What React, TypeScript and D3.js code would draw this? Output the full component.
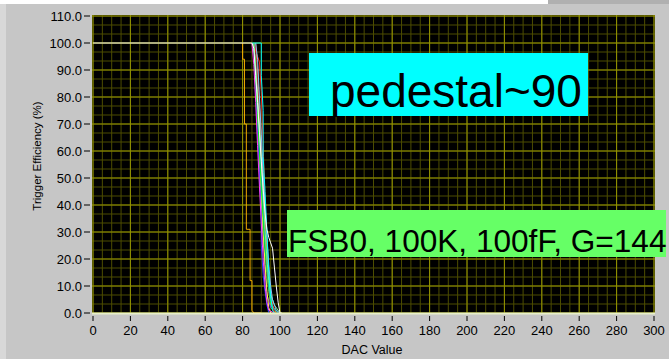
import React from "react";
import * as d3 from "d3";

const xTicks = [0, 20, 40, 60, 80, 100, 120, 140, 160, 180, 200, 220, 240, 260, 280, 300];
const yTicks = [0, 10, 20, 30, 40, 50, 60, 70, 80, 90, 100, 110];
const xTitle = "DAC Value";
const yTitle = "Trigger Efficiency (%)";
const note1 = "pedestal~90";
const note2 = "FSB0, 100K, 100fF, G=144";

// each series: [DAC, efficiency%]
const sWhite: [number, number][] = [[0, 100], [85, 100], [86, 98], [87, 88], [88, 78], [89, 67], [90, 56], [91, 46], [92, 37], [93, 31], [94, 28], [95, 26], [96, 24], [97, 17], [98, 10], [99, 4], [100, 0], [101, 0]];
const sOrange: [number, number][] = [[80, 100], [80, 94], [81, 94], [81, 70], [82, 70], [82, 31], [84, 31], [84, 12], [85, 12], [85, 1], [86, 0], [90, 0]];
const sCyan: [number, number][] = [[85, 100], [90, 100], [90, 88], [91, 75], [91, 58], [92, 45], [93, 30], [94, 15], [95, 6], [96, 1], [97, 0]];
const sRed: [number, number][] = [[86, 100], [87, 97], [88, 95], [89, 93], [90, 82], [91, 62], [92, 42], [93, 26], [94, 13], [95, 6], [97, 0]];
const sGreen: [number, number][] = [[86, 100], [87, 88], [88, 74], [89, 60], [90, 47], [91, 35], [92, 24], [93, 16], [94, 9], [95, 4], [96, 1], [98, 0]];
const sBlue: [number, number][] = [[86, 100], [87, 85], [88, 68], [89, 52], [90, 36], [90, 25], [91, 14], [92, 8], [93, 3], [94, 0]];
const sMagenta: [number, number][] = [[85, 100], [86, 92], [87, 78], [88, 62], [89, 47], [90, 33], [91, 20], [92, 10], [93, 4], [94, 1], [97, 0]];
const sYellow: [number, number][] = [[86, 100], [87, 90], [88, 76], [89, 61], [90, 45], [91, 30], [92, 18], [93, 8], [94, 2], [95, 0]];
const sPink: [number, number][] = [[86, 100], [87, 93], [88, 82], [89, 68], [90, 53], [91, 38], [92, 26], [93, 15], [94, 8], [95, 3], [99, 0]];
const sLightBlue: [number, number][] = [[87, 100], [88, 94], [89, 80], [90, 66], [91, 52], [92, 40], [93, 28], [94, 18], [95, 10], [96, 5], [98, 1], [100, 0]];
const sLime: [number, number][] = [[86, 100], [87, 89], [88, 80], [89, 70], [90, 58], [91, 44], [92, 31], [93, 20], [94, 12], [95, 7], [97, 3], [100, 0]];
const sPurple: [number, number][] = [[86, 100], [87, 86], [88, 71], [89, 56], [90, 41], [91, 27], [92, 16], [93, 7], [95, 2], [98, 0]];
const sDarkRed: [number, number][] = [[87, 100], [88, 90], [89, 77], [90, 63], [91, 49], [92, 36], [93, 24], [94, 15], [95, 8], [96, 3], [98, 0]];
const sTeal: [number, number][] = [[86, 100], [87, 91], [88, 79], [89, 65], [90, 51], [91, 39], [92, 27], [93, 17], [94, 9], [96, 2], [99, 0]];

const series: { data: [number, number][]; color: string }[] = [
  { data: sOrange, color: "#f0a800" },
  { data: sPurple, color: "#8040ff" },
  { data: sBlue, color: "#2040ff" },
  { data: sYellow, color: "#ffff40" },
  { data: sMagenta, color: "#ff40ff" },
  { data: sPink, color: "#ff8080" },
  { data: sGreen, color: "#00ff00" },
  { data: sRed, color: "#ff2020" },
  { data: sDarkRed, color: "#ff6040" },
  { data: sTeal, color: "#00c0a0" },
  { data: sLime, color: "#80ff80" },
  { data: sLightBlue, color: "#80c0ff" },
  { data: sCyan, color: "#00ffff" },
  { data: sWhite, color: "#ffffff" },
];

export default function App() {
  const W = 669, H = 359;
  const x = d3.scaleLinear().domain([0, 300]).range([93, 654]);
  const y = d3.scaleLinear().domain([0, 110]).range([313, 16]);
  const line = d3.line<[number, number]>().x(d => x(d[0])).y(d => y(d[1]));
  const xMinor = d3.range(0, 301, 5);
  const yMinor = d3.range(0, 111, 10 / 3);
  const font = "'Liberation Sans', Arial, sans-serif";
  return (
    <svg width={W} height={H} style={{ position: "absolute", left: 0, top: 0 }}>
      <rect x={0} y={0} width={W} height={H} fill="#c6c6c6" />
      <rect x={0} y={0} width={548} height={4} fill="#ffffff" />
      <rect x={548} y={0} width={121} height={4} fill="#b0b0b0" />
      <rect x={0} y={4} width={6} height={H} fill="#d8d8d8" />
      <rect x={92} y={15} width={563} height={299} fill="#000000" />
      <g>
        {xMinor.map(v => (
          <line key={"xm" + v} x1={x(v)} x2={x(v)} y1={15} y2={313} stroke="#4d4d00" strokeWidth={1} />
        ))}
        {yMinor.map((v, i) => (
          <line key={"ym" + i} x1={92} x2={655} y1={y(v)} y2={y(v)} stroke="#4d4d00" strokeWidth={1} />
        ))}
        {xTicks.map(v => (
          <line key={"xM" + v} x1={x(v)} x2={x(v)} y1={15} y2={313} stroke="#959500" strokeWidth={1} />
        ))}
        {yTicks.map(v => (
          <line key={"yM" + v} x1={92} x2={655} y1={y(v)} y2={y(v)} stroke="#959500" strokeWidth={1} />
        ))}
      </g>
      <g fill="none" strokeWidth={1}>
        {series.map((s, i) => (
          <path key={i} d={line(s.data) || ""} stroke={s.color} />
        ))}
      </g>
      <line x1={92} x2={655} y1={313.5} y2={313.5} stroke="#e8f0c8" strokeWidth={2} />
      <g fontFamily={font} fontSize={13} fill="#000">
        {yTicks.map(v => (
          <g key={"yt" + v}>
            <line x1={84} x2={90} y1={y(v)} y2={y(v)} stroke="#000" />
            <text x={82} y={y(v) + 4.5} textAnchor="end">{v.toFixed(1)}</text>
          </g>
        ))}
        {xTicks.map(v => (
          <g key={"xt" + v}>
            <line x1={x(v)} x2={x(v)} y1={316} y2={321} stroke="#000" />
            <text x={x(v)} y={335} textAnchor="middle">{v}</text>
          </g>
        ))}
      </g>
      <text x={372} y={354} textAnchor="middle" fontFamily={font} fontSize={12.5}>{xTitle}</text>
      <text transform="translate(41,156) rotate(-90)" textAnchor="middle" fontFamily={font} fontSize={11.5}>{yTitle}</text>
      <rect x={309} y={53} width={279} height={63} fill="#00ffff" />
      <text x={330} y={107} fontFamily={font} fontSize={46} fill="#000">{note1}</text>
      <rect x={287} y={210} width={379} height={47} fill="#66ff66" />
      <text x={288} y={252} fontFamily={font} fontSize={31.6} fill="#000">{note2}</text>
    </svg>
  );
}
